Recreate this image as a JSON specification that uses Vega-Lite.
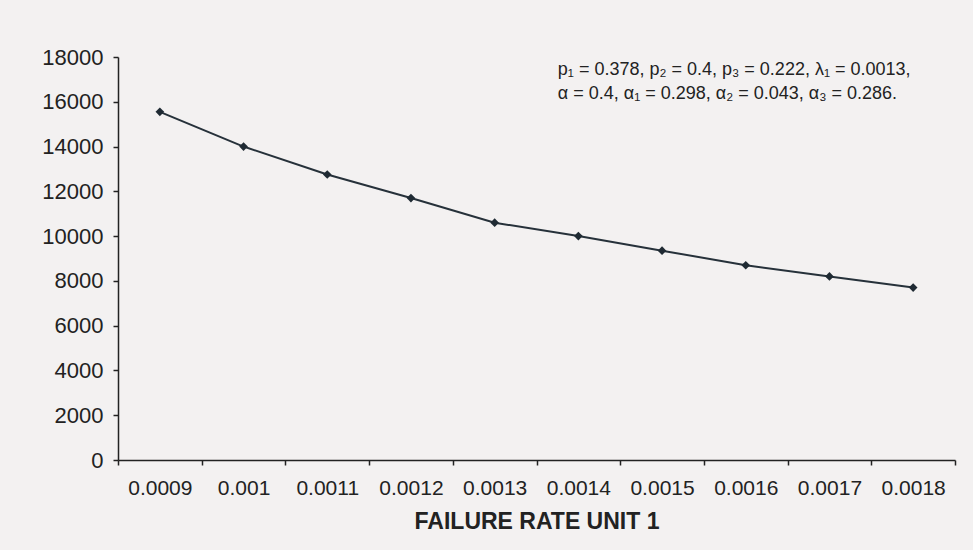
{
  "$schema": "https://vega.github.io/schema/vega-lite/v6.json",
  "width": 837,
  "height": 403,
  "autosize": {"type": "none"},
  "padding": {"left": 118, "top": 57, "right": 18, "bottom": 90},
  "background": "#f3f1f1",
  "config": {
    "view": {"stroke": null},
    "font": "Liberation Sans"
  },
  "title": {
    "text": ["p₁ = 0.378, p₂ = 0.4, p₃ = 0.222, λ₁ = 0.0013,", "α = 0.4, α₁ = 0.298, α₂ = 0.043, α₃ = 0.286."],
    "anchor": "start",
    "align": "left",
    "baseline": "top",
    "orient": "top",
    "offset": -3,
    "dx": 516,
    "dy": 54,
    "fontSize": 18,
    "fontWeight": "normal",
    "lineHeight": 24,
    "color": "#222222",
    "font": "Liberation Sans"
  },
  "data": {
    "values": [
      {"rate": "0.0009", "value": 15550},
      {"rate": "0.001", "value": 14000},
      {"rate": "0.0011", "value": 12750},
      {"rate": "0.0012", "value": 11700},
      {"rate": "0.0013", "value": 10600},
      {"rate": "0.0014", "value": 10000},
      {"rate": "0.0015", "value": 9350},
      {"rate": "0.0016", "value": 8700},
      {"rate": "0.0017", "value": 8200},
      {"rate": "0.0018", "value": 7700}
    ]
  },
  "encoding": {
    "x": {
      "field": "rate",
      "type": "ordinal",
      "sort": null,
      "scale": {"type": "band", "paddingInner": 0, "paddingOuter": 0},
      "axis": {
        "title": "FAILURE RATE UNIT 1",
        "labelAngle": 0,
        "tickBand": "extent",
        "tickSize": 5,
        "tickColor": "#222222",
        "tickWidth": 1.5,
        "domainColor": "#222222",
        "domainWidth": 1.5,
        "labelFontSize": 21,
        "labelColor": "#222222",
        "labelPadding": 12,
        "titleFontSize": 23,
        "titleFontWeight": "bold",
        "titleColor": "#222222",
        "titlePadding": 12,
        "grid": false
      }
    },
    "y": {
      "field": "value",
      "type": "quantitative",
      "scale": {"domain": [0, 18000], "nice": false},
      "axis": {
        "title": null,
        "values": [0, 2000, 4000, 6000, 8000, 10000, 12000, 14000, 16000, 18000],
        "format": "d",
        "grid": false,
        "tickSize": 5,
        "tickColor": "#222222",
        "tickWidth": 1.5,
        "domainColor": "#222222",
        "domainWidth": 1.5,
        "labelFontSize": 22,
        "labelColor": "#222222",
        "labelPadding": 10
      }
    }
  },
  "layer": [
    {"mark": {"type": "line", "color": "#26313a", "strokeWidth": 2}},
    {"mark": {"type": "point", "shape": "diamond", "filled": true, "color": "#1f2a33", "size": 75, "opacity": 1}}
  ]
}
